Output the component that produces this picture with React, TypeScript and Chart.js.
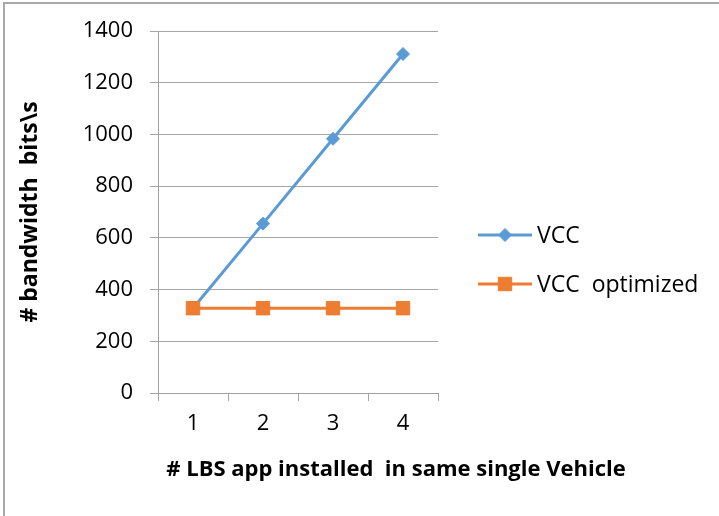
import React, { useEffect, useRef } from 'react';
import { Chart, registerables } from 'chart.js';

Chart.register(...registerables);

const categories = ['1', '2', '3', '4'];
const vccValues = [328, 655, 983, 1311];
const vccOptimizedValues = [328, 328, 328, 328];
const yTicks = [0, 200, 400, 600, 800, 1000, 1200, 1400];
const seriesNames = ['VCC', 'VCC  optimized'];
const xTitle = '# LBS app installed  in same single Vehicle';
const yTitle = '# bandwidth  bits\\s';

const BLUE = '#5B9BD5';
const ORANGE = '#ED7D31';
const GRID = '#a6a6a6';
const AXIS = '#a0a0a0';
const FAMILY = "'Open Sans', 'Noto Sans', sans-serif";

function drawMarker(ctx: CanvasRenderingContext2D, style: string, r: number, x: number, y: number) {
  ctx.beginPath();
  if (style === 'rectRot') {
    ctx.moveTo(x - r, y);
    ctx.lineTo(x, y - r);
    ctx.lineTo(x + r, y);
    ctx.lineTo(x, y + r);
    ctx.closePath();
  } else {
    const s = r * Math.SQRT1_2;
    ctx.rect(x - s, y - s, 2 * s, 2 * s);
  }
  ctx.fill();
  ctx.stroke();
}

const decorPlugin = {
  id: 'decor',
  afterDraw(chart: any) {
    const ctx = chart.ctx as CanvasRenderingContext2D;
    ctx.save();
    // outer border
    ctx.strokeStyle = '#a8a8a8';
    ctx.lineWidth = 2;
    ctx.strokeRect(4, 3, 900, 700);

    // axis titles
    ctx.fillStyle = '#000';
    ctx.font = `bold 22px ${FAMILY}`;
    ctx.textAlign = 'center';
    ctx.textBaseline = 'middle';
    ctx.fillText(xTitle, 396, 470);

    const area = chart.chartArea;
    ctx.save();
    ctx.translate(30, (area.top + area.bottom) / 2);
    ctx.rotate(-Math.PI / 2);
    ctx.font = `bold 23px ${FAMILY}`;
    ctx.fillText(yTitle, 0, 0);
    ctx.restore();

    // legend
    ctx.font = `23px ${FAMILY}`;
    ctx.textAlign = 'left';
    chart.data.datasets.forEach((ds: any, i: number) => {
      const y = 235 + i * 49;
      ctx.strokeStyle = ds.borderColor;
      ctx.lineWidth = 3;
      ctx.beginPath();
      ctx.moveTo(478, y);
      ctx.lineTo(532, y);
      ctx.stroke();
      ctx.fillStyle = ds.borderColor;
      ctx.lineWidth = 1;
      drawMarker(ctx, ds.pointStyle, ds.pointRadius, 505, y);
      ctx.fillStyle = '#000';
      ctx.fillText(seriesNames[i], 537, y + 1);
    });
    ctx.restore();
  },
};

export default function App() {
  const ref = useRef<HTMLCanvasElement | null>(null);
  useEffect(() => {
    if (!ref.current) return;
    const tickFont = { family: FAMILY, size: 22 };
    const chart = new Chart(ref.current, {
      type: 'line',
      data: {
        labels: categories,
        datasets: [
          {
            label: seriesNames[0],
            data: vccValues,
            borderColor: BLUE,
            backgroundColor: BLUE,
            borderWidth: 3,
            pointStyle: 'rectRot',
            pointRadius: 6.5,
            pointBorderWidth: 1,
            pointHoverRadius: 6.5,
            fill: false,
            tension: 0,
            order: 2,
          },
          {
            label: seriesNames[1],
            data: vccOptimizedValues,
            borderColor: ORANGE,
            backgroundColor: ORANGE,
            borderWidth: 3,
            pointStyle: 'rect',
            pointRadius: 9.5,
            pointBorderWidth: 1,
            pointHoverRadius: 9.5,
            fill: false,
            tension: 0,
            order: 1,
          },
        ],
      },
      options: {
        responsive: false,
        animation: false,
        events: [],
        layout: { padding: { left: 0, right: 281, top: 31, bottom: 0 } },
        plugins: { legend: { display: false }, title: { display: false }, tooltip: { enabled: false } },
        scales: {
          x: {
            type: 'category',
            offset: true,
            grid: { offset: true, drawOnChartArea: false, drawTicks: true, tickLength: 8, color: GRID },
            border: { color: AXIS, width: 1 },
            ticks: { font: tickFont, color: '#000', padding: 10 },
            afterFit: (s: any) => { s.height = 123; },
          },
          y: {
            min: 0,
            max: 1400,
            grid: { color: GRID, tickLength: 8 },
            border: { color: AXIS, width: 1 },
            ticks: { font: tickFont, color: '#000', padding: 17, callback: (v: any) => String(v) },
            afterBuildTicks: (s: any) => { s.ticks = yTicks.map((v) => ({ value: v })); },
            afterFit: (s: any) => { s.width = 158; },
          },
        },
      },
      plugins: [decorPlugin],
    });
    return () => chart.destroy();
  }, []);
  return (
    <div style={{ position: 'absolute', left: 0, top: 0, width: 719, height: 516, background: '#fff' }}>
      <canvas ref={ref} width={719} height={516} style={{ display: 'block' }} />
    </div>
  );
}
